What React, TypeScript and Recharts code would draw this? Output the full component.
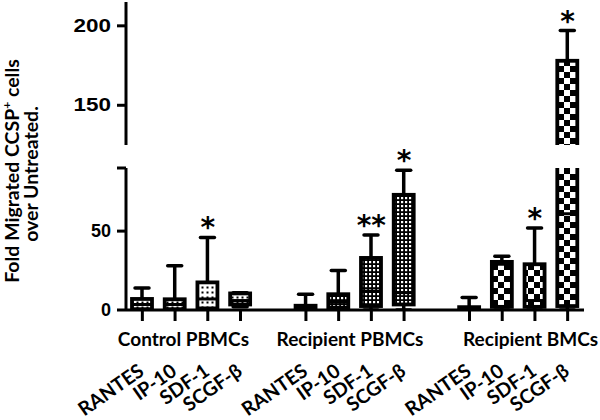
import React from "react";
import { ComposedChart, Bar, Scatter, XAxis, YAxis, Label } from "recharts";

const categories = ["RANTES", "IP-10", "SDF-1", "SCGF-β"];
const groups = ["Control PBMCs", "Recipient PBMCs", "Recipient BMCs"];

// box-and-whisker stats, one entry per category
const controlMin = [0, 0, 0, 2];
const controlQ1 = [0.5, 0.5, 1, 3.5];
const controlMedian = [3.5, 3.5, 7, 6];
const controlQ3 = [7, 6.8, 17.5, 10.5];
const controlMax = [14, 28, 46, 11];
const controlSig = ["", "", "*", ""];

const pbmcMin = [0, 0, 0, 0];
const pbmcQ1 = [0.3, 1.5, 2.5, 3.5];
const pbmcMedian = [1, 5, 12, 11];
const pbmcQ3 = [2.7, 10, 33, 73];
const pbmcMax = [10, 25, 47.5, 88.5];
const pbmcSig = ["", "", "**", "*"];

const bmcMin = [0, 0, 0, 0];
const bmcQ1 = [0.3, 2, 2, 2.5];
const bmcMedian = [1, 29, 6, 61];
const bmcQ3 = [1.8, 30.5, 29, 178];
const bmcMax = [8, 34, 52, 197];
const bmcSig = ["", "", "*", "*"];

// broken y axis: two panels
const lowerDomain = [0, 90];
const upperDomain = [125, 215];
const lowerTicks = [0, 50, 90];
const upperTicks = [125, 150, 200];
const hiddenTicks = [90, 125];

const stats = [
  { min: controlMin, q1: controlQ1, med: controlMedian, q3: controlQ3, max: controlMax, sig: controlSig },
  { min: pbmcMin, q1: pbmcQ1, med: pbmcMedian, q3: pbmcQ3, max: pbmcMax, sig: pbmcSig },
  { min: bmcMin, q1: bmcQ1, med: bmcMedian, q3: bmcQ3, max: bmcMax, sig: bmcSig },
];

const rows: any[] = [];
groups.forEach((g, gi) => {
  const s = stats[gi];
  categories.forEach((c, ci) => {
    rows.push({
      key: `${gi}-${ci}`,
      cat: c,
      group: g,
      gi,
      ci,
      min: s.min[ci],
      q1: s.q1[ci],
      med: s.med[ci],
      q3: s.q3[ci],
      max: s.max[ci],
      sig: s.sig[ci],
    });
  });
  if (gi < groups.length - 1) rows.push({ key: `gap-${gi}`, cat: "" });
});
const rowByKey: Record<string, any> = {};
rows.forEach((r) => (rowByKey[r.key] = r));

const FONT = "Lato, 'Liberation Sans', sans-serif";
const NUM_FONT = "'Liberation Sans', Arial, sans-serif";
const WIDTH = 600;
const AXIS_W = 126;
const RIGHT = 16;
const SLOT = (WIDTH - AXIS_W - RIGHT) / rows.length;
const groupFills = ["dots", "fine", "checker"];
const groupLabelShift = [-8, -5, 12];

const makeDefs = (p: string) => (
  <defs>
    <pattern id={`${p}-dots`} width={5} height={5} patternUnits="userSpaceOnUse">
      <rect width={5} height={5} fill="#fff" />
      <rect x={1.5} y={1.5} width={2} height={2} fill="#000" />
    </pattern>
    <pattern id={`${p}-fine`} width={4} height={4} patternUnits="userSpaceOnUse">
      <rect width={4} height={4} fill="#000" />
      <rect x={1} y={1} width={2.2} height={2.2} fill="#fff" />
    </pattern>
    <pattern id={`${p}-checker`} width={12} height={12} patternUnits="userSpaceOnUse">
      <rect width={12} height={12} fill="#fff" />
      <rect x={0} y={0} width={6} height={6} fill="#000" />
      <rect x={6} y={6} width={6} height={6} fill="#000" />
    </pattern>
  </defs>
);

const BoxShape = (props: any) => {
  const { x, y, width, height, payload, prefix } = props;
  if (!payload || !payload.cat) return null;
  const top = Math.min(y, y + height);
  const bot = Math.max(y, y + height);
  const span = payload.max - payload.min;
  const k = span > 0 ? (bot - top) / span : 0;
  const py = (v: number) => bot - (v - payload.min) * k;
  const cx = x + width / 2;
  const yMax = py(payload.max);
  const yQ3 = py(payload.q3);
  const yMed = py(payload.med);
  const yQ1 = py(payload.q1);
  const yMin = py(payload.min);
  return (
    <g>
      <line x1={cx} x2={cx} y1={yQ3} y2={yMax} stroke="#000" strokeWidth={3.5} />
      <line x1={cx} x2={cx} y1={yQ1} y2={yMin} stroke="#000" strokeWidth={3.5} />
      <line x1={cx - 7} x2={cx + 7} y1={yMax} y2={yMax} stroke="#000" strokeWidth={3.5} strokeLinecap="round" />
      <line x1={cx - 7} x2={cx + 7} y1={yMin} y2={yMin} stroke="#000" strokeWidth={3.5} strokeLinecap="round" />
      <rect
        x={x}
        y={yQ3}
        width={width}
        height={yQ1 - yQ3}
        fill={`url(#${prefix}-${groupFills[payload.gi]})`}
        stroke="#000"
        strokeWidth={3.8}
      />
      <line x1={x} x2={x + width} y1={yMed} y2={yMed} stroke="#000" strokeWidth={3} />
    </g>
  );
};

const SigMark = (props: any) => {
  const { cx, cy, payload } = props;
  if (!payload || !payload.sig || cy == null || isNaN(cy)) return null;
  return (
    <text
      x={cx}
      y={cy}
      textAnchor="middle"
      fontFamily="'DejaVu Sans', sans-serif"
      fontWeight="bold"
      fontSize={28}
      fill="#000"
    >
      {payload.sig}
    </text>
  );
};

const YTick = (props: any) => {
  const { x, y, payload, stretch } = props;
  if (hiddenTicks.includes(payload.value)) return null;
  const s = String(payload.value);
  return (
    <text
      x={x}
      y={y}
      dy={6}
      textAnchor="end"
      fontFamily={NUM_FONT}
      fontWeight="bold"
      fontSize={18}
      fill="#000"
      {...(stretch ? { textLength: s.length * 12.5, lengthAdjust: "spacingAndGlyphs" } : {})}
    >
      {s}
    </text>
  );
};

const XTick = (props: any) => {
  const { x, y, payload } = props;
  const row = rowByKey[payload.value];
  if (!row || !row.cat) return null;
  return (
    <g>
      <line x1={x} x2={x} y1={y} y2={y + 11} stroke="#000" strokeWidth={3} />
      <text
        x={x + 3}
        y={y + 64}
        transform={`rotate(-35, ${x + 3}, ${y + 64})`}
        textAnchor="end"
        fontFamily={FONT}
        fontWeight="bold"
        fontSize={19.5}
        fill="#000"
      >
        {row.cat}
      </text>
      {row.ci === 1 && (
        <text
          x={x + SLOT / 2 + groupLabelShift[row.gi]}
          y={y + 36}
          textAnchor="middle"
          fontFamily={FONT}
          fontWeight="bold"
          fontSize={19}
          fill="#000"
        >
          {row.group}
        </text>
      )}
    </g>
  );
};

const AxisTitle = () => (
  <text transform="rotate(-90)" textAnchor="middle" fontFamily={FONT} fontWeight="bold" fontSize={19.5} fill="#000">
    <tspan x={-171} y={19}>Fold Migrated CCSP</tspan>
    <tspan dy={-8} fontSize={12}>+</tspan>
    <tspan dy={8}> cells</tspan>
    <tspan x={-174} y={38}>over Untreated.</tspan>
  </text>
);

const axisStroke = { stroke: "#000", strokeWidth: 3 };

export default function App() {
  const lowerSig = (d: any) => (d.sig && d.max <= lowerDomain[1] ? d.max : undefined);
  const upperSig = (d: any) => (d.sig && d.max >= upperDomain[0] ? d.max : undefined);
  const boxValue = (d: any) => (d.cat ? [d.min, d.max] : undefined);

  return (
    <div style={{ position: "relative", width: WIDTH, height: 420, background: "#fff" }}>
      <style>{"body{margin:0}"}</style>
      <div style={{ position: "absolute", left: 0, top: 0 }}>
        <ComposedChart
          width={WIDTH}
          height={420}
          data={rows}
          margin={{ top: 168, right: RIGHT, bottom: 0, left: 0 }}
        >
          {makeDefs("lo")}
          <XAxis
            dataKey="key"
            height={110}
            interval={0}
            tickLine={false}
            tickSize={0}
            tickMargin={0}
            axisLine={axisStroke}
            tick={<XTick />}
          />
          <YAxis
            width={AXIS_W}
            domain={lowerDomain}
            ticks={lowerTicks}
            allowDataOverflow
            tickSize={9}
            tickMargin={6}
            axisLine={axisStroke}
            tickLine={axisStroke}
            tick={<YTick />}
          >
            <Label content={<AxisTitle />} />
          </YAxis>
          <YAxis yAxisId="sig" hide domain={lowerDomain} />
          <Bar dataKey={boxValue} barSize={20} shape={<BoxShape prefix="lo" />} isAnimationActive={false} />
          <Scatter yAxisId="sig" dataKey={lowerSig} shape={<SigMark />} isAnimationActive={false} />
        </ComposedChart>
      </div>
      <div style={{ position: "absolute", left: 0, top: 0 }}>
        <ComposedChart
          width={WIDTH}
          height={147}
          data={rows}
          margin={{ top: 2, right: RIGHT, bottom: 2, left: 0 }}
        >
          {makeDefs("hi")}
          <XAxis dataKey="key" hide />
          <YAxis
            width={AXIS_W}
            domain={upperDomain}
            ticks={upperTicks}
            allowDataOverflow
            tickSize={9}
            tickMargin={6}
            axisLine={axisStroke}
            tickLine={axisStroke}
            tick={<YTick stretch />}
          />
          <YAxis yAxisId="sig" hide domain={upperDomain} />
          <Bar dataKey={boxValue} barSize={20} shape={<BoxShape prefix="hi" />} isAnimationActive={false} />
          <Scatter yAxisId="sig" dataKey={upperSig} shape={<SigMark />} isAnimationActive={false} />
        </ComposedChart>
      </div>
    </div>
  );
}
